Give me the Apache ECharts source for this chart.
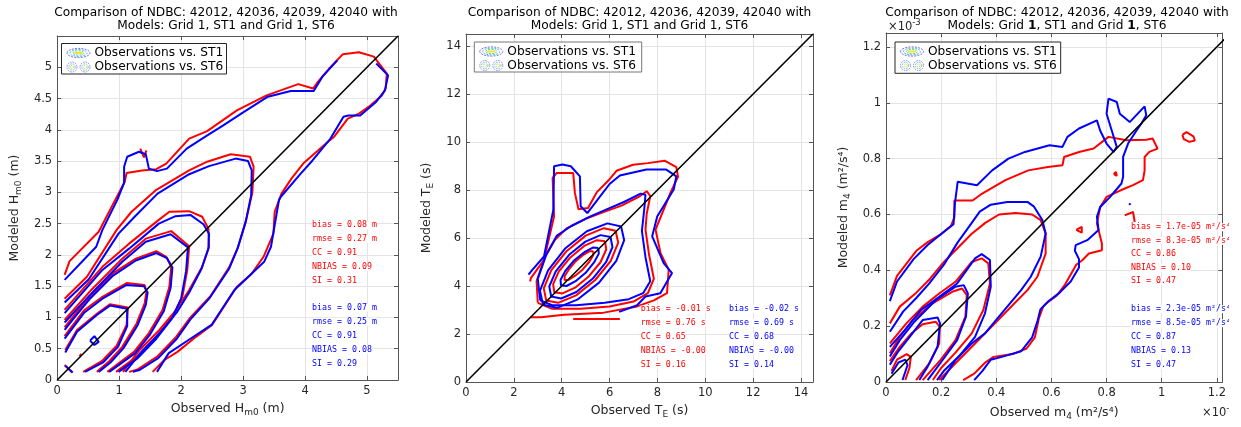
<!DOCTYPE html>
<html><head><meta charset="utf-8">
<script src="https://cdn.jsdelivr.net/npm/echarts@6/dist/echarts.min.js"></script>
<style>
html,body{margin:0;padding:0;background:#fff;width:1241px;height:427px;overflow:hidden;position:relative}
.p{position:absolute;top:0;height:427px;overflow:hidden}
</style></head><body>
<div id="c1" class="p" style="left:0;width:401px"></div>
<div id="c2" class="p" style="left:405px;width:410px"></div>
<div id="c3" class="p" style="left:820px;width:409px"></div>
<script>
// ---------------- text ----------------
const titleLine1 = 'Comparison of NDBC: 42012, 42036, 42039, 42040 with';
const titleLine2 = 'Models: Grid 1, ST1 and Grid 1, ST6';
const legendNames = ['Observations vs. ST1', 'Observations vs. ST6'];

const p1StatsST1 = ['bias = 0.08 m', 'rmse = 0.27 m', 'CC = 0.91', 'NBIAS = 0.09', 'SI = 0.31'];
const p1StatsST6 = ['bias = 0.07 m', 'rmse = 0.25 m', 'CC = 0.91', 'NBIAS = 0.08', 'SI = 0.29'];
const p2StatsST1 = ['bias = -0.01 s', 'rmse = 0.76 s', 'CC = 0.65', 'NBIAS = -0.00', 'SI = 0.16'];
const p2StatsST6 = ['bias = -0.02 s', 'rmse = 0.69 s', 'CC = 0.68', 'NBIAS = -0.00', 'SI = 0.14'];
const p3StatsST1 = ['bias = 1.7e-05 m²/s⁴', 'rmse = 8.3e-05 m²/s⁴', 'CC = 0.86', 'NBIAS = 0.10', 'SI = 0.47'];
const p3StatsST6 = ['bias = 2.3e-05 m²/s⁴', 'rmse = 8.5e-05 m²/s⁴', 'CC = 0.87', 'NBIAS = 0.13', 'SI = 0.47'];

// ---------------- axis extents ----------------
const p1Range = [5.5, 5.5], p1Ticks = [1, 0.5];
const p2Range = [14.5, 14.5], p2Ticks = [2, 2];
const p3Range = [1.22, 1.25], p3Ticks = [0.2, 0.2];   // values in units of 1e-3

// ---------------- Panel 1: Hm0 contours (ST1 red, ST6 blue) ----------------
const p1R1 = [[0.12,1.68],[0.20,1.90],[0.67,2.37],[0.88,2.77],[1.09,3.17],[1.12,3.31],[1.37,3.35],[1.60,3.37],[1.76,3.46],[2.13,3.86],[2.42,3.98],[2.90,4.31],[3.38,4.55],[3.89,4.73],[4.13,4.66],[4.21,4.77],[4.39,4.98],[4.61,5.21],[4.87,5.24],[5.11,5.17],[5.32,4.90],[5.30,4.66],[5.24,4.55],[5.03,4.37],[4.87,4.26],[4.69,4.18],[4.47,3.89],[4.37,3.81],[3.97,3.46],[3.78,3.22],[3.62,2.98],[3.51,2.69],[3.49,2.34],[3.33,1.97],[3.14,1.70],[2.90,1.49],[2.50,0.88],[2.24,0.69],[1.94,0.45],[1.73,0.32],[1.54,0.13]];
const p1RSpike = [[1.34,3.70],[1.40,3.56],[1.44,3.67]];
const p1R2 = [[0.12,1.30],[0.48,1.65],[0.96,2.40],[1.20,2.69],[1.60,3.04],[2.13,3.35],[2.42,3.49],[2.80,3.61],[3.11,3.57],[3.17,3.41],[3.15,3.00],[3.05,2.56],[2.92,2.13],[2.78,1.81],[2.48,1.35],[2.15,1.00],[1.92,0.69],[1.62,0.38],[1.30,0.17],[1.16,0.13]];
const p1R3 = [[0.12,1.12],[0.73,1.81],[1.16,2.18],[1.64,2.56],[1.81,2.69],[2.13,2.70],[2.34,2.61],[2.44,2.42],[2.45,2.13],[2.34,1.81],[2.13,1.44],[1.92,1.12],[1.65,0.80],[1.33,0.48],[1.06,0.13]];
const p1R4 = [[0.12,0.96],[0.55,1.44],[1.05,1.94],[1.43,2.26],[1.84,2.38],[2.13,2.14],[2.10,1.76],[2.02,1.33],[1.86,1.01],[1.60,0.69],[1.28,0.37],[0.95,0.13]];
const p1R5 = [[0.12,0.84],[0.28,1.04],[0.52,1.33],[0.89,1.70],[1.27,1.94],[1.60,2.06],[1.76,1.97],[1.84,1.81],[1.81,1.49],[1.70,1.12],[1.48,0.75],[1.24,0.45],[0.81,0.13]];
const p1R6 = [[0.12,0.70],[0.44,1.12],[0.73,1.33],[1.12,1.55],[1.41,1.52],[1.44,1.41],[1.41,1.22],[1.28,0.90],[1.05,0.53],[0.84,0.30],[0.64,0.13]];
const p1R7 = [[0.13,0.48],[0.32,0.80],[0.64,1.06],[0.85,1.21],[1.14,1.16],[1.12,0.88],[0.96,0.55],[0.72,0.30],[0.42,0.13]];
const p1RDot = [[0.36,0.38],[0.39,0.42]];
const p1RCross = [[0.12,0.24],[0.24,0.12]];

const p1B1a = [[0.12,1.60],[0.63,2.13],[0.73,2.40],[0.97,2.88],[1.08,3.15],[1.08,3.41],[1.13,3.57],[1.32,3.65],[1.43,3.61],[1.48,3.38],[1.61,3.34],[1.77,3.38],[2.09,3.70],[2.39,3.89],[2.68,4.07],[2.97,4.26],[3.40,4.53],[3.77,4.62],[4.14,4.62],[4.28,4.85],[4.52,5.11]];
const p1B1b = [[5.15,5.06],[5.34,4.87],[5.29,4.63],[5.15,4.45],[4.89,4.23],[4.70,4.23],[4.62,4.21],[4.41,3.86],[4.12,3.51],[3.93,3.30],[3.61,2.93],[3.58,2.88],[3.45,2.13],[3.34,1.89],[2.86,1.44],[2.49,0.88],[2.12,0.64],[1.80,0.43],[1.61,0.13]];
const p1B2 = [[0.12,1.24],[0.51,1.61],[0.99,2.34],[1.25,2.61],[1.62,2.98],[2.13,3.29],[2.45,3.42],[2.88,3.54],[3.08,3.50],[3.14,3.35],[3.13,2.95],[3.04,2.52],[2.91,2.10],[2.77,1.77],[2.46,1.31],[2.15,0.97],[1.93,0.66],[1.63,0.35],[1.33,0.16],[1.22,0.13]];
const p1B3 = [[0.12,1.07],[0.73,1.76],[1.16,2.10],[1.64,2.50],[1.91,2.62],[2.15,2.64],[2.36,2.49],[2.45,2.34],[2.44,2.10],[2.33,1.78],[2.13,1.40],[1.93,1.08],[1.67,0.77],[1.36,0.45],[1.10,0.13]];
const p1B4 = [[0.12,0.92],[0.55,1.38],[1.05,1.89],[1.43,2.21],[1.83,2.33],[2.11,2.12],[2.08,1.74],[2.00,1.30],[1.85,0.98],[1.60,0.66],[1.30,0.35],[0.99,0.13]];
const p1B5 = [[0.12,0.80],[0.28,1.00],[0.52,1.29],[0.89,1.66],[1.27,1.91],[1.60,2.03],[1.77,1.95],[1.86,1.80],[1.83,1.47],[1.72,1.10],[1.50,0.73],[1.26,0.43],[0.84,0.13]];
const p1B6 = [[0.12,0.66],[0.44,1.08],[0.73,1.30],[1.12,1.52],[1.40,1.50],[1.46,1.40],[1.43,1.20],[1.30,0.88],[1.07,0.51],[0.86,0.28],[0.67,0.13]];
const p1B7 = [[0.13,0.44],[0.32,0.77],[0.64,1.04],[0.85,1.19],[1.13,1.14],[1.13,0.86],[0.98,0.53],[0.74,0.28],[0.45,0.13]];
const p1BDiamond = [[0.53,0.63],[0.60,0.70],[0.67,0.61],[0.60,0.56],[0.53,0.63]];
const p1BCross = [[0.13,0.23],[0.25,0.12]];
const p1Diag = [[0,0],[5.5,5.5]];

// ---------------- Panel 2: TE contours ----------------
const p2R1 = [[2.68,4.19],[2.71,4.33],[3.26,5.09],[3.68,6.90],[3.62,8.50],[3.79,8.71],[4.48,8.71],[4.55,7.88],[4.70,7.20],[5.10,7.25],[5.46,7.90],[6.00,8.45],[6.29,8.80],[6.98,9.05],[7.60,9.12],[8.30,9.22],[8.79,8.95],[8.86,8.55],[8.55,7.90],[8.26,7.18],[7.92,6.35],[8.13,5.37],[8.47,4.68],[8.40,3.70],[7.85,3.40],[7.15,3.15],[5.76,2.89],[4.10,2.80],[3.13,2.70],[2.71,2.70]];
const p2RBottom = [[4.48,2.62],[6.43,2.62]];
const p2R2 = [[3.00,3.30],[2.95,4.20],[3.30,5.20],[3.70,5.90],[4.20,6.40],[5.00,6.80],[5.80,7.10],[6.50,7.35],[7.20,7.70],[7.55,7.95],[7.70,7.75],[7.55,7.00],[7.50,6.35],[7.65,5.30],[7.85,4.30],[7.60,3.70],[7.00,3.35],[6.00,3.15],[4.80,3.05],[3.60,3.05],[3.00,3.30]];
const p2R3 = [[6.25,6.30],[5.76,6.41],[5.00,6.10],[4.20,5.45],[3.56,4.65],[3.25,3.90],[3.35,3.40],[3.85,3.30],[4.60,3.61],[5.40,4.25],[6.05,5.05],[6.36,5.81],[6.25,6.30]];
const p2R4 = [[5.81,5.86],[5.47,5.91],[4.94,5.67],[4.36,5.19],[3.88,4.61],[3.64,4.08],[3.69,3.74],[4.03,3.69],[4.56,3.93],[5.14,4.41],[5.62,4.99],[5.86,5.52],[5.81,5.86]];
const p2R5 = [[5.32,5.45],[5.16,5.45],[4.89,5.29],[4.56,5.01],[4.29,4.68],[4.12,4.41],[4.12,4.25],[4.28,4.25],[4.55,4.42],[4.88,4.69],[5.16,5.02],[5.32,5.29],[5.32,5.45]];

const p2B1 = [[2.61,4.47],[2.78,4.68],[3.26,5.23],[3.65,7.18],[3.68,8.99],[4.03,9.06],[4.38,8.99],[4.76,8.57],[4.79,7.32],[5.07,7.04],[5.50,7.60],[6.00,8.25],[6.43,8.60],[7.54,8.85],[8.37,8.85],[8.79,8.57],[8.68,8.02],[7.99,6.90],[7.78,6.07],[8.26,4.95],[8.61,4.54],[8.12,3.70],[7.50,3.56],[7.15,3.20],[6.40,2.92]];
const p2B2 = [[3.10,3.40],[3.00,4.30],[3.35,5.30],[3.80,6.10],[4.40,6.50],[5.20,6.90],[5.90,7.20],[6.60,7.50],[7.30,7.85],[7.50,7.80],[7.45,7.20],[7.35,6.30],[7.50,5.20],[7.70,4.20],[7.40,3.70],[6.80,3.45],[5.80,3.30],[4.60,3.20],[3.60,3.20],[3.10,3.40]];
const p2B3 = [[6.48,6.48],[5.91,6.61],[5.05,6.28],[4.14,5.56],[3.43,4.65],[3.09,3.80],[3.22,3.22],[3.80,3.09],[4.65,3.43],[5.56,4.14],[6.28,5.05],[6.61,5.91],[6.48,6.48]];
const p2B4 = [[6.04,6.04],[5.62,6.12],[4.99,5.85],[4.31,5.30],[3.75,4.61],[3.48,3.98],[3.56,3.56],[3.98,3.48],[4.61,3.75],[5.30,4.31],[5.85,4.99],[6.12,5.62],[6.04,6.04]];
const p2B5 = [[5.53,5.58],[5.30,5.60],[4.93,5.40],[4.50,5.05],[4.15,4.63],[3.95,4.25],[3.97,4.02],[4.20,4.00],[4.58,4.20],[5.00,4.55],[5.35,4.98],[5.55,5.35],[5.53,5.58]];
const p2Diag = [[0,0],[14.5,14.5]];

// ---------------- Panel 3: m4 contours (x1e-3) ----------------
const p3R1 = [[0.014,0.31],[0.04,0.38],[0.11,0.47],[0.15,0.50],[0.20,0.53],[0.236,0.56],[0.248,0.59],[0.248,0.65],[0.314,0.65],[0.349,0.675],[0.433,0.723],[0.516,0.758],[0.587,0.77],[0.64,0.776],[0.646,0.806],[0.70,0.824],[0.753,0.836],[0.807,0.878],[0.872,0.866],[0.944,0.868],[0.967,0.872],[0.985,0.836],[0.955,0.824],[0.938,0.806],[0.938,0.758],[0.932,0.723],[0.896,0.705],[0.866,0.693],[0.825,0.675],[0.80,0.663],[0.777,0.627],[0.765,0.568],[0.783,0.496],[0.783,0.472],[0.736,0.46],[0.712,0.436],[0.69,0.42],[0.65,0.35],[0.62,0.31],[0.58,0.28],[0.57,0.27],[0.555,0.23],[0.54,0.16],[0.51,0.12],[0.46,0.10],[0.39,0.09],[0.36,0.07],[0.32,0.03],[0.28,0.007]];
const p3R2 = [[0.014,0.21],[0.05,0.27],[0.11,0.32],[0.16,0.37],[0.21,0.43],[0.26,0.48],[0.31,0.53],[0.36,0.57],[0.41,0.60],[0.47,0.605],[0.53,0.60],[0.561,0.58],[0.579,0.532],[0.579,0.46],[0.549,0.377],[0.513,0.329],[0.466,0.282],[0.395,0.21],[0.323,0.138],[0.252,0.067],[0.193,0.007]];
const p3R3 = [[0.014,0.138],[0.074,0.21],[0.133,0.27],[0.193,0.317],[0.252,0.359],[0.311,0.43],[0.347,0.443],[0.371,0.425],[0.377,0.353],[0.353,0.258],[0.311,0.174],[0.252,0.105],[0.20,0.05],[0.17,0.007]];
const p3R4 = [[0.014,0.103],[0.05,0.162],[0.097,0.222],[0.169,0.282],[0.24,0.323],[0.276,0.335],[0.293,0.311],[0.288,0.234],[0.252,0.15],[0.198,0.079],[0.133,0.007]];
const p3R5 = [[0.014,0.075],[0.05,0.126],[0.092,0.174],[0.133,0.207],[0.18,0.216],[0.195,0.198],[0.193,0.138],[0.157,0.067],[0.109,0.007]];
const p3R6 = [[0.02,0.04],[0.04,0.08],[0.075,0.10],[0.09,0.09],[0.085,0.05],[0.07,0.007]];
const p3RLoopA = [[1.075,0.885],[1.09,0.895],[1.115,0.88],[1.12,0.865],[1.10,0.86],[1.08,0.87],[1.075,0.885]];
const p3RLoopB = [[0.826,0.745],[0.834,0.752],[0.837,0.738],[0.826,0.745]];
const p3RLoopC = [[0.69,0.545],[0.71,0.556],[0.71,0.535],[0.69,0.545]];
const p3RHook = [[0.866,0.597],[0.896,0.609],[0.902,0.573]];

const p3B1 = [[0.014,0.29],[0.04,0.36],[0.10,0.44],[0.15,0.49],[0.20,0.53],[0.245,0.565],[0.25,0.64],[0.26,0.717],[0.33,0.705],[0.385,0.758],[0.444,0.80],[0.504,0.824],[0.593,0.848],[0.64,0.842],[0.658,0.878],[0.70,0.908],[0.765,0.937],[0.777,0.90],[0.80,0.854],[0.825,0.824],[0.837,0.842],[0.819,0.90],[0.80,0.961],[0.807,1.015],[0.837,1.003],[0.848,0.961],[0.884,0.931],[0.938,0.987],[0.944,0.955],[0.926,0.925],[0.908,0.90],[0.878,0.854],[0.86,0.806],[0.86,0.735],[0.854,0.711],[0.813,0.663],[0.777,0.627],[0.765,0.592],[0.771,0.544],[0.73,0.508],[0.688,0.49],[0.685,0.47],[0.70,0.44],[0.70,0.41],[0.67,0.36],[0.63,0.32],[0.59,0.29],[0.56,0.26],[0.55,0.22],[0.53,0.16],[0.49,0.11],[0.42,0.09],[0.38,0.08],[0.35,0.04],[0.32,0.007]];
const p3B2 = [[0.014,0.18],[0.062,0.252],[0.109,0.30],[0.157,0.353],[0.21,0.42],[0.26,0.50],[0.311,0.57],[0.34,0.61],[0.38,0.635],[0.44,0.645],[0.513,0.645],[0.537,0.628],[0.567,0.58],[0.579,0.532],[0.561,0.449],[0.525,0.377],[0.49,0.329],[0.43,0.258],[0.359,0.174],[0.311,0.138],[0.252,0.079],[0.204,0.007]];
const p3B3 = [[0.014,0.126],[0.068,0.186],[0.127,0.258],[0.193,0.305],[0.258,0.353],[0.323,0.443],[0.347,0.458],[0.377,0.437],[0.38,0.341],[0.359,0.246],[0.323,0.162],[0.264,0.091],[0.21,0.04],[0.185,0.007]];
const p3B4 = [[0.014,0.091],[0.05,0.15],[0.103,0.216],[0.18,0.293],[0.252,0.341],[0.282,0.347],[0.297,0.317],[0.29,0.234],[0.258,0.15],[0.21,0.085],[0.151,0.007]];
const p3B5 = [[0.014,0.062],[0.044,0.109],[0.086,0.162],[0.133,0.222],[0.187,0.231],[0.196,0.21],[0.187,0.126],[0.151,0.055],[0.121,0.007]];
const p3B6 = [[0.02,0.03],[0.045,0.07],[0.07,0.08],[0.078,0.06],[0.06,0.007]];
const p3BDot = [[0.882,0.634],[0.887,0.64]];
const p3Diag = [[0,0],[1.25,1.25]];

// ---------------- helpers ----------------
const FONT = 'DejaVu Sans';
const MONO = 'DejaVu Sans Mono';
const AX = '#262626';

function lineSeries(d, color, w) {
  return { type: 'line', data: d, symbol: 'none', showSymbol: false, clip: true, silent: true,
    animation: false, lineStyle: { color: color, width: w || 2 }, itemStyle: { color: color },
    emphasis: { disabled: true }, xAxisIndex: 0, yAxisIndex: 0 };
}
function nameStyle() {
  return { fontFamily: FONT, fontSize: 12.5, color: AX,
    rich: { a: { fontFamily: FONT, fontSize: 12.5, color: AX },
            s: { fontFamily: FONT, fontSize: 9, color: AX, padding: [8, 0, 0, 0] } } };
}
function axis(pos, max, interval, main, name, gap) {
  const a = { type: 'value', position: pos, min: 0, max: max, interval: interval,
    axisLine: { show: true, onZero: false, lineStyle: { color: '#555', width: 1 } },
    axisTick: { show: true, inside: true, length: 4, lineStyle: { color: '#555' } },
    axisLabel: { show: main, showMaxLabel: false, color: AX, fontSize: 11.5, fontFamily: FONT, margin: 5 },
    splitLine: { show: main, lineStyle: { color: '#e4e4e4', width: 1 } } };
  if (main) { a.name = name; a.nameLocation = 'middle'; a.nameGap = gap; a.nameTextStyle = nameStyle(); }
  return a;
}
function textEl(x, y, text, color, size, family, extra) {
  return Object.assign({ type: 'text', x: x, y: y, z: 100, silent: true,
    style: { text: text, fill: color, fontSize: size, fontFamily: family, align: 'left', verticalAlign: 'middle' } }, extra || {});
}
function statsEls(lines, x, y0, step, color) {
  return lines.map((t, i) => ({ type: 'text', x: x, y: y0 + i * step, z: 100, silent: true,
    style: { text: t, fill: color, fontSize: 8.3, fontFamily: MONO, align: 'left', verticalAlign: 'middle',
             backgroundColor: '#fff' } }));
}
function titleEls(cx, bold) {
  const l2 = bold ? 'Models: Grid {b|1}, ST1 and Grid {b|1}, ST6' : titleLine2;
  return [
    { type: 'text', x: cx, y: 12.7, z: 100, silent: true,
      style: { text: titleLine1, fill: '#000', fontSize: 12.2, fontFamily: FONT, align: 'center', verticalAlign: 'middle' } },
    { type: 'text', x: cx, y: 25.7, z: 100, silent: true,
      style: { text: l2, fill: '#000', fontSize: 12.2, fontFamily: FONT, align: 'center', verticalAlign: 'middle',
               rich: { b: { fontWeight: 'bold', fontSize: 12.2, fontFamily: FONT, fill: '#000' } } } }
  ];
}
function legendEls(lx, ly, w, h, border) {
  const els = [];
  els.push({ type: 'rect', z: 90, silent: true, shape: { x: lx, y: ly, width: w, height: h },
    style: { fill: '#fff', stroke: border, lineWidth: 1 } });
  const cx = lx + 17, r1 = ly + 9.5, r2 = ly + 23.5;
  [[11.5, 4.6, '#7c6fe0'], [8.5, 3.4, '#45b6d8'], [5.5, 2.2, '#5ccf8a']].forEach(e => els.push({
    type: 'ellipse', z: 95, silent: true, shape: { cx: cx, cy: r1, rx: e[0], ry: e[1] },
    style: { fill: 'none', stroke: e[2], lineWidth: 1, lineDash: [2, 1.2] } }));
  els.push({ type: 'line', z: 96, silent: true, shape: { x1: cx - 4, y1: r1, x2: cx + 4, y2: r1 },
    style: { stroke: '#f3e23a', lineWidth: 2 } });
  [-6.5, 6.5].forEach(dx => {
    [[5, '#8a8fe0'], [3.2, '#6cc4d8'], [1.6, '#d8dc4a']].forEach(c => els.push({
      type: 'circle', z: 95, silent: true, shape: { cx: cx + dx, cy: r2, r: c[0] },
      style: { fill: 'none', stroke: c[1], lineWidth: 1, lineDash: [1.6, 1] } }));
  });
  els.push(textEl(lx + 33, r1, legendNames[0], '#000', 12.2, FONT, { z: 96 }));
  els.push(textEl(lx + 33, r2, legendNames[1], '#000', 12.2, FONT, { z: 96 }));
  return els;
}
function build(P) {
  const series = [];
  P.red.forEach(d => series.push(lineSeries(d, '#ff0000', 2)));
  P.blue.forEach(d => series.push(lineSeries(d, '#0000ff', 2)));
  series.push(lineSeries(P.diag, '#000000', 1.6));
  return {
    animation: false, backgroundColor: '#fff',
    grid: { left: P.g[0], top: P.g[1], width: P.g[2], height: P.g[3], containLabel: false },
    xAxis: [axis('bottom', P.range[0], P.ticks[0], true, P.xName, P.xGap),
            axis('top', P.range[0], P.ticks[0], false)],
    yAxis: [axis('left', P.range[1], P.ticks[1], true, P.yName, P.yGap),
            axis('right', P.range[1], P.ticks[1], false)],
    series: series,
    graphic: { elements: P.graphic }
  };
}

// ---------------- panels ----------------
const c1 = echarts.init(document.getElementById('c1'), null, { renderer: 'canvas' });
c1.setOption(build({
  g: [54, 36, 344, 344], range: p1Range, ticks: p1Ticks,
  xName: '{a|Observed H}{s|m0}{a| (m)}', yName: '{a|Modeled H}{s|m0}{a| (m)}', xGap: 18, yGap: 25,
  red: [p1R1, p1RSpike, p1R2, p1R3, p1R4, p1R5, p1R6, p1R7, p1RDot, p1RCross],
  blue: [p1B1a, p1B1b, p1B2, p1B3, p1B4, p1B5, p1B6, p1B7, p1BDiamond, p1BCross],
  diag: p1Diag,
  graphic: [].concat(titleEls(226, false), legendEls(61.5, 43.5, 165, 30.5, '#262626'),
    statsEls(p1StatsST1, 312, 225, 14, '#ff0000'), statsEls(p1StatsST6, 312, 307.7, 14, '#0000ff'))
}));

const c2 = echarts.init(document.getElementById('c2'), null, { renderer: 'canvas' });
c2.setOption(build({
  g: [61, 34, 347, 348], range: p2Range, ticks: p2Ticks,
  xName: '{a|Observed T}{s|E}{a| (s)}', yName: '{a|Modeled T}{s|E}{a| (s)}', xGap: 19, yGap: 17,
  red: [p2R1, p2RBottom, p2R2, p2R3, p2R4, p2R5],
  blue: [p2B1, p2B2, p2B3, p2B4, p2B5],
  diag: p2Diag,
  graphic: [].concat(titleEls(234.5, false), legendEls(69.3, 42, 167.4, 30, '#777'),
    statsEls(p2StatsST1, 235.7, 309, 14, '#ff0000'), statsEls(p2StatsST6, 324, 309, 14, '#0000ff'))
}));

const c3 = echarts.init(document.getElementById('c3'), null, { renderer: 'canvas' });
c3.setOption(build({
  g: [66, 33, 342, 349], range: p3Range, ticks: p3Ticks,
  xName: '{a|Observed m}{s|4}{a| (m²/s⁴)}', yName: '{a|Modeled m}{s|4}{a| (m²/s⁴)}', xGap: 22, yGap: 24,
  red: [p3R1, p3R2, p3R3, p3R4, p3R5, p3R6, p3RLoopA, p3RLoopB, p3RLoopC, p3RHook],
  blue: [p3B1, p3B2, p3B3, p3B4, p3B5, p3B6, p3BDot],
  diag: p3Diag,
  graphic: [].concat(titleEls(237, true), legendEls(75, 42, 165.7, 31.3, '#262626'),
    statsEls(p3StatsST1, 311, 227.3, 13.5, '#ff0000'), statsEls(p3StatsST6, 311, 309.3, 14, '#0000ff'),
    [{ type: 'text', x: 68, y: 27, z: 100, silent: true,
       style: { text: '{a|×10}{b|-3}', verticalAlign: 'middle', align: 'left',
                rich: { a: { fontSize: 11.5, fontFamily: FONT, fill: AX },
                        b: { fontSize: 8.5, fontFamily: FONT, fill: AX, padding: [0, 0, 8, 0] } } } },
     { type: 'text', x: 382, y: 413, z: 100, silent: true,
       style: { text: '{a|×10}{b|-3}', verticalAlign: 'middle', align: 'left',
                rich: { a: { fontSize: 11.5, fontFamily: FONT, fill: AX },
                        b: { fontSize: 8.5, fontFamily: FONT, fill: AX, padding: [0, 0, 8, 0] } } } }])
}));
</script>
</body></html>
